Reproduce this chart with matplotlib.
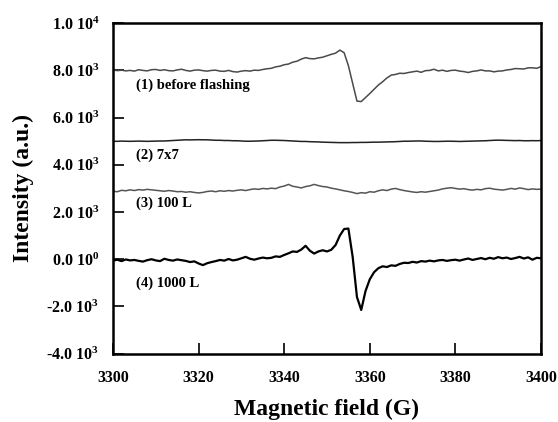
import matplotlib
matplotlib.use("Agg")
import matplotlib.pyplot as plt
import numpy as np

"""EPR spectra before/after flashing, replot"""

plt.rcParams['font.family'] = 'Liberation Serif'
plt.rcParams['font.weight'] = 'bold'
plt.rcParams['mathtext.fontset'] = 'custom'
plt.rcParams['mathtext.rm'] = 'Liberation Serif:bold'
plt.rcParams['mathtext.it'] = 'Liberation Serif:bold'
plt.rcParams['mathtext.bf'] = 'Liberation Serif:bold'

field = np.arange(3300, 3401, 1)  # Magnetic field (G)

# (1) before flashing
before = [8020, 7990, 8010, 7980, 8000, 7970, 8030, 8000, 7980, 8030,
          8040, 8000, 8030, 7990, 7980, 8020, 8050, 8000, 7970, 8010,
          8020, 7990, 7970, 8000, 8010, 7970, 7960, 8000, 7950, 7930,
          7970, 7990, 7970, 8010, 8000, 8040, 8070, 8090, 8150, 8180,
          8240, 8270, 8350, 8390, 8480, 8540, 8500, 8490, 8530, 8560,
          8620, 8680, 8730, 8860, 8750, 8200, 7450, 6700, 6680, 6850,
          7020, 7200, 7380, 7520, 7680, 7800, 7830, 7880, 7870, 7910,
          7940, 7970, 7920, 7990, 8000, 8050, 7980, 8010, 7960, 8000,
          8010, 7970, 7950, 7910, 7960, 7980, 8020, 7980, 7980, 7940,
          7970, 7980, 8020, 8040, 8080, 8070, 8060, 8110, 8110, 8090,
          8160]

# (2) 7x7
s7x7 = [5000, 4995, 5005, 5000, 4995, 5000, 5005, 5000, 4995, 5000,
        5005, 5010, 5010, 5020, 5030, 5040, 5050, 5060, 5055, 5060,
        5065, 5060, 5060, 5050, 5040, 5040, 5030, 5030, 5020, 5020,
        5010, 5000, 5000, 5005, 5010, 5020, 5030, 5040, 5040, 5035,
        5030, 5020, 5010, 5000, 4990, 4990, 4980, 4975, 4970, 4960,
        4955, 4950, 4945, 4940, 4940, 4940, 4945, 4945, 4950, 4950,
        4955, 4960, 4960, 4965, 4970, 4975, 4980, 4990, 5000, 5000,
        5005, 5010, 5010, 5000, 4995, 4990, 4990, 4995, 5000, 5000,
        4995, 4990, 4995, 5000, 5005, 5010, 5015, 5020, 5030, 5040,
        5045, 5040, 5035, 5030, 5025, 5030, 5020, 5020, 5025, 5020,
        5030]

# (3) 100 L
s100 = [2880, 2860, 2920, 2900, 2940, 2910, 2950, 2930, 2960, 2940,
        2920, 2900, 2880, 2910, 2890, 2860, 2870, 2840, 2860, 2830,
        2810, 2830, 2870, 2890, 2860, 2900, 2880, 2910, 2890, 2920,
        2940, 2910, 2950, 2980, 2960, 3000, 2980, 3010, 2990, 3060,
        3100, 3170, 3090, 3060, 3020, 3080, 3110, 3170, 3120, 3080,
        3060, 3010, 2980, 2940, 2900, 2870, 2830, 2780, 2820, 2800,
        2860, 2840, 2900, 2940, 2910, 2970, 3000, 2950, 2910, 2880,
        2850, 2830, 2860, 2840, 2870, 2900, 2930, 2980, 3010, 3030,
        3000, 2970, 2990, 2950, 2930, 2960, 2940, 2990, 3010, 2970,
        2950, 2930, 2960, 3000, 2970, 3020, 2990, 2950, 2980, 2960,
        2970]

# (4) 1000 L
s1000 = [-60, -20, -80, -10, -50, -30, -70, -100, -40, 0,
         -50, -80, 20, -30, -60, -10, -40, -70, -120, -90,
         -180, -250, -170, -120, -80, -30, -60, 10, -50, -20,
         40, 100, 20, -20, 30, 70, 40, 60, 120, 100,
         180, 250, 330, 310, 410, 570, 360, 240, 330, 380,
         330, 400, 600, 1000, 1280, 1300, 100, -1600, -2150, -1350,
         -850, -550, -380, -300, -330, -260, -280, -200, -150, -160,
         -110, -140, -80, -100, -60, -90, -50, -30, -70, -40,
         -20, -60, -10, 30, -30, 10, 50, 0, 60, 20,
         90, 40, 70, 10, 50, 100, 30, 80, -20, 60,
         40]

labels = ["(1) before flashing", "(2) 7x7", "(3) 100 L", "(4) 1000 L"]
label_y = [7350, 4400, 2370, -1000]

yticks = [-4000, -2000, 0, 2000, 4000, 6000, 8000, 10000]
ytick_labels = ["-4.0 10$^{3}$", "-2.0 10$^{3}$", "0.0 10$^{0}$", "2.0 10$^{3}$",
                "4.0 10$^{3}$", "6.0 10$^{3}$", "8.0 10$^{3}$", "1.0 10$^{4}$"]
xticks = [3300, 3320, 3340, 3360, 3380, 3400]

fig = plt.figure(figsize=(5.58, 4.22), dpi=100)
ax = fig.add_axes([0.2025, 0.162, 0.767, 0.783])

ax.plot(field, before, color="#4a4a4a", linewidth=1.1)
ax.plot(field, s7x7, color="#222222", linewidth=1.1)
ax.plot(field, s100, color="#555555", linewidth=1.1)
ax.plot(field, s1000, color="black", linewidth=1.6)

for lab, ly in zip(labels, label_y):
    ax.text(3305.4, ly, lab, fontsize=10.5, fontweight="bold", va="center", ha="left")

ax.set_xlim(3300, 3400)
ax.set_ylim(-4000, 10000)
ax.set_xticks(xticks)
ax.set_yticks(yticks)
ax.set_yticklabels(ytick_labels)
ax.tick_params(direction="in", length=8, width=1.2, labelsize=11.5, top=False, right=False)
ax.tick_params(axis="x", pad=12)
ax.tick_params(axis="y", pad=10)
for sp in ax.spines.values():
    sp.set_linewidth(1.8)

ax.set_xlabel("Magnetic field (G)", fontsize=17, fontweight="bold", labelpad=9)
ax.set_ylabel("Intensity (a.u.)", fontsize=17, fontweight="bold", labelpad=9)

plt.savefig("out.png", dpi=100)
